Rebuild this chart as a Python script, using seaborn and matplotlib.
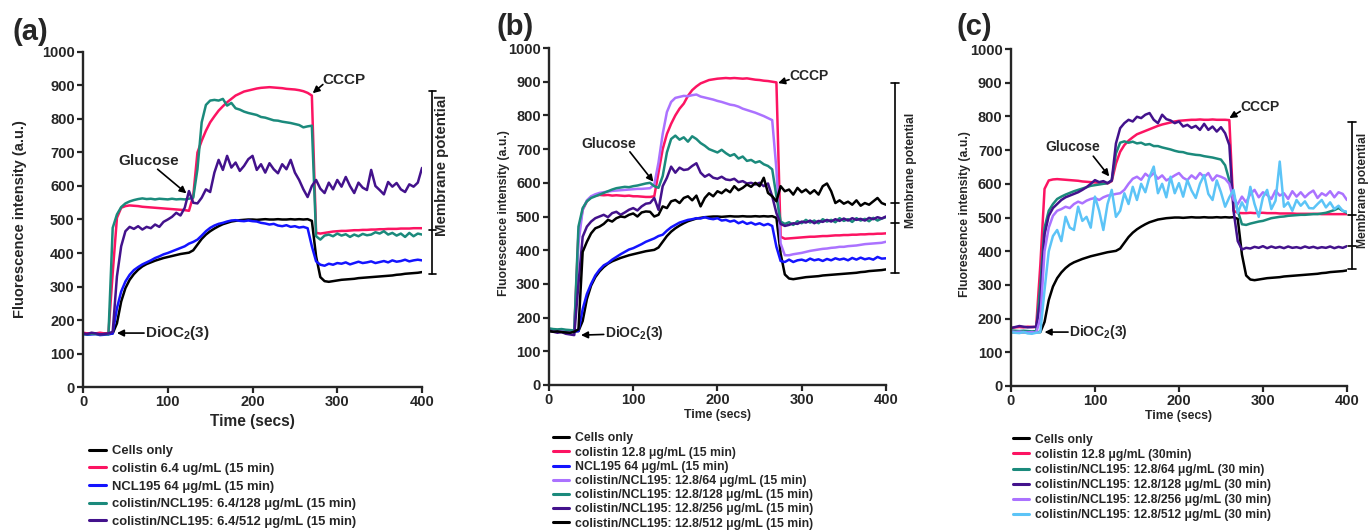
import pandas as pd
import seaborn as sns
import matplotlib.pyplot as plt
from matplotlib.lines import Line2D

# sampled every 5 s, 0-400 s
TIME = list(range(0, 401, 5))

CELLS_ONLY = [160, 160, 160, 160, 160, 160, 160, 160, 190, 255,
              295, 320, 337, 350, 360, 367, 372, 377, 381, 385,
              388, 391, 394, 397, 399, 401, 408, 425, 442, 455,
              465, 473, 480, 486, 490, 494, 496, 498, 499, 500,
              500, 499, 500, 501, 500, 500, 501, 500, 500, 501,
              500, 501, 500, 501, 496, 390, 328, 316, 314, 316,
              318, 320, 321, 322, 323, 325, 326, 327, 328, 329,
              330, 331, 332, 333, 335, 336, 338, 339, 340, 341,
              343]

# ---- panel (a)
COL64_A = [162, 160, 161, 160, 162, 160, 161, 340, 505, 535,
           540, 542, 541, 540, 538, 537, 536, 535, 534, 533,
           532, 531, 530, 529, 528, 526, 570, 700, 735, 765,
           790, 808, 825, 838, 850, 860, 870, 876, 882, 885,
           888, 891, 893, 894, 895, 894, 893, 892, 890, 889,
           888, 886, 883, 878, 870, 460, 458, 460, 462, 464,
           465, 466, 466, 467, 468, 468, 469, 469, 470, 470,
           471, 471, 472, 472, 472, 473, 473, 473, 474, 474,
           474]
NCL64_A = [158, 156, 157, 158, 155, 156, 157, 160, 235, 285,
           315, 335, 349, 358, 366, 372, 378, 385, 390, 396,
           400, 405, 410, 415, 420, 428, 433, 440, 452, 465,
           475, 482, 487, 490, 494, 497, 498, 496, 495, 497,
           495, 494, 490, 488, 485, 487, 482, 480, 483, 478,
           480, 476, 478, 474, 420, 375, 365, 362, 368, 365,
           370, 368, 372, 366, 370, 374, 370, 372, 375, 370,
           373, 376, 372, 378, 374, 376, 380, 375, 378, 380,
           378]
COMBO128_A = [158, 157, 159, 158, 157, 158, 157, 475, 515, 537,
              548, 554, 558, 561, 563, 561, 562, 560, 562, 561,
              560, 562, 560, 561, 560, 562, 565, 650, 790, 842,
              855, 857, 855, 860, 840, 848, 832, 828, 822, 818,
              815, 812, 806, 804, 800, 796, 795, 792, 790, 788,
              785, 782, 775, 778, 780, 450, 440, 452, 455, 450,
              458, 452, 456, 448, 455, 450, 457, 453, 455, 462,
              458, 465, 455, 460, 452, 458, 448, 460, 450, 458,
              455]
COMBO512_A = [160, 158, 162, 160, 157, 158, 160, 165, 330, 420,
              465, 478, 472, 480, 470, 478, 474, 485, 478, 493,
              500, 508, 520, 512, 535, 585, 550, 548, 565, 590,
              582, 640, 678, 648, 690, 655, 670, 645, 660, 680,
              690, 648, 665, 640, 668, 650, 638, 665, 650, 678,
              640, 618, 590, 567, 600, 618, 592, 579, 610, 590,
              618, 598, 627, 600, 579, 610, 595, 588, 648, 600,
              588, 575, 612, 598, 609, 590, 582, 605, 598, 610,
              654]

# ---- panel (b)
COL128_B = [165, 163, 162, 163, 161, 162, 160, 450, 520, 545,
            558, 562, 564, 563, 564, 562, 563, 562, 561, 562,
            560, 560, 559, 558, 558, 560, 630, 700, 745, 775,
            800, 820, 835, 858, 875, 886, 895, 900, 905, 907,
            909, 910, 911, 910, 911, 910, 909, 910, 908, 906,
            905, 903, 902, 900, 898, 440, 434, 435, 436, 437,
            438, 439, 440, 440, 441, 442, 442, 443, 444, 444,
            445, 445, 446, 446, 447, 447, 448, 448, 449, 449,
            450]
NCL64_B = [162, 160, 159, 160, 158, 157, 158, 160, 225, 270,
           300, 325, 342, 355, 362, 372, 380, 388, 395, 402,
           406, 412, 418, 425, 430, 435, 442, 446, 458, 468,
           475, 482, 486, 490, 492, 495, 494, 498, 494, 492,
           495, 488, 490, 485, 488, 480, 485, 478, 482, 476,
           480, 474, 478, 472, 410, 368, 365, 372, 365, 370,
           372, 368, 375, 370, 373, 368, 374, 370, 376, 372,
           375, 370, 377, 372, 378, 373, 376, 372, 380, 375,
           376]
COMBO64_B = [163, 162, 161, 160, 162, 160, 161, 420, 520, 548,
             560, 566, 570, 572, 574, 576, 577, 578, 579, 580,
             581, 582, 582, 583, 584, 595, 660, 745, 810, 840,
             852, 855, 858, 857, 860, 862, 856, 853, 850, 847,
             843, 840, 836, 832, 830, 826, 820, 816, 812, 808,
             803, 798, 792, 786, 640, 420, 385, 385, 388, 390,
             392, 395, 398, 400, 402, 404, 405, 407, 408, 410,
             410, 412, 413, 414, 416, 418, 419, 420, 421, 422,
             425]
COMBO128_B = [168, 166, 165, 166, 164, 163, 162, 470, 525, 545,
              555, 560, 565, 570, 575, 580, 584, 586, 588, 587,
              590, 592, 595, 598, 600, 590, 585, 620, 690, 730,
              740, 728, 735, 722, 738, 730, 718, 710, 700, 695,
              690, 698, 688, 680, 685, 672, 678, 665, 668, 660,
              664, 655, 650, 640, 560, 485, 478, 483, 475, 486,
              480, 490, 482, 488, 480, 492, 485, 490, 483, 495,
              487, 492, 484, 495, 488, 493, 486, 496, 488, 494,
              498]
COMBO256_B = [162, 158, 155, 157, 152, 150, 148, 300, 440, 470,
              485, 495, 500, 505, 498, 510, 514, 505, 512, 520,
              525, 518, 530, 538, 540, 555, 520, 590, 615, 648,
              630, 645, 638, 640, 650, 658, 630, 618, 625, 615,
              612, 618, 610, 608, 612, 602, 605, 598, 600, 595,
              600, 590, 598, 560, 510, 478, 472, 475, 480, 478,
              485, 482, 488, 480, 487, 484, 490, 485, 492, 487,
              494, 488, 495, 490, 493, 488, 496, 492, 498, 494,
              500]
COMBO512_B = [160, 158, 159, 157, 156, 155, 158, 165, 395, 425,
              450, 465, 470, 478, 490, 485, 495, 500, 498, 505,
              509, 500, 512, 515, 514, 500, 505, 530, 525, 545,
              549, 540, 555, 560, 548, 562, 530, 555, 569, 560,
              575, 569, 580, 572, 590, 578, 585, 595, 588, 600,
              590, 615, 570, 560, 545, 590, 575, 580, 565, 585,
              572, 580, 568, 578, 565, 590, 598, 575, 540, 548,
              538, 544, 535, 548, 532, 540, 535, 545, 555, 540,
              535]

# ---- panel (c)
COL128_C = [172, 174, 175, 174, 176, 175, 175, 360, 585, 610,
            613, 614, 613, 612, 611, 610, 609, 607, 606, 605,
            604, 603, 602, 601, 608, 660, 695, 715, 728, 738,
            747, 752, 757, 762, 767, 772, 776, 779, 782, 785,
            787, 788, 789, 790, 790, 791, 790, 790, 791, 790,
            790, 790, 789, 520, 514, 513, 513, 514, 513, 514,
            514, 513, 513, 513, 512, 512, 512, 512, 511, 511,
            511, 511, 511, 511, 510, 510, 510, 510, 510, 510,
            510]
COMBO64_C = [165, 164, 163, 164, 163, 162, 163, 300, 470, 520,
             540, 555, 562, 568, 573, 578, 582, 586, 590, 594,
             596, 598, 600, 602, 610, 690, 722, 726, 722, 725,
             720, 722, 716, 718, 712, 712, 708, 705, 702, 698,
             695, 694, 690, 688, 686, 685, 682, 680, 678, 675,
             672, 655, 610, 570, 520, 480, 478, 482, 485, 488,
             490, 494, 498, 500, 502, 503, 505, 506, 507, 508,
             508, 509, 510, 510, 512, 514, 518, 522, 528, 520,
             514]
COMBO128_C = [172, 175, 178, 176, 174, 175, 176, 250, 450, 505,
              528, 540, 552, 560, 565, 570, 575, 582, 590, 600,
              611, 605, 608, 602, 610, 720, 765, 780, 790, 785,
              799, 795, 805, 810, 790, 780, 805, 792, 788, 780,
              785, 770, 775, 766, 772, 760, 778, 760, 770, 755,
              768, 750, 715, 520, 430, 405, 410, 408, 413, 410,
              415, 409, 414, 410, 413, 409, 414, 410, 412, 409,
              414, 410, 413, 409, 412, 410, 414, 409, 413, 410,
              415]
COMBO256_C = [162, 160, 161, 160, 159, 160, 158, 200, 400, 470,
              505, 520, 525, 532, 528, 540, 547, 542, 550, 555,
              558, 552, 560, 565, 567, 570, 572, 582, 600, 615,
              621, 612, 630, 620, 632, 615, 625, 610, 617, 625,
              632, 618, 611, 625, 615, 632, 620, 632, 610, 625,
              621, 615, 600, 552, 540, 562, 545, 570, 582, 560,
              575, 567, 555, 580, 565, 572, 555, 578, 562, 575,
              560, 572, 580, 558, 572, 565, 578, 560, 575, 570,
              552]
COMBO512_C = [160, 158, 157, 160, 156, 155, 158, 160, 285, 400,
              445, 463, 430, 502, 470, 463, 532, 490, 502, 470,
              562, 520, 463, 540, 582, 502, 520, 572, 540, 591,
              552, 600, 575, 621, 651, 572, 600, 560, 621, 572,
              602, 562, 611, 580, 558, 600, 626, 570, 552, 610,
              575, 532, 560, 582, 513, 545, 520, 591, 540, 502,
              560, 582, 525, 550, 666, 532, 545, 520, 552, 535,
              548, 528, 527, 540, 552, 530, 545, 525, 535, 520,
              517]

LABELS_A = ["Cells only", "colistin 6.4 ug/mL (15 min)", "NCL195 64 μg/mL (15 min)",
            "colistin/NCL195: 6.4/128 μg/mL (15 min)", "colistin/NCL195: 6.4/512 μg/mL (15 min)"]
LABELS_B = ["Cells only", "colistin 12.8 μg/mL (15 min)", "NCL195 64 μg/mL (15 min)",
            "colistin/NCL195: 12.8/64 μg/mL (15 min)", "colistin/NCL195: 12.8/128 μg/mL (15 min)",
            "colistin/NCL195: 12.8/256 μg/mL (15 min)", "colistin/NCL195: 12.8/512 μg/mL (15 min)"]
LABELS_C = ["Cells only", "colistin 12.8 μg/mL (30min)", "colistin/NCL195: 12.8/64 μg/mL (30 min)",
            "colistin/NCL195: 12.8/128 μg/mL (30 min)", "colistin/NCL195: 12.8/256 μg/mL (30 min)",
            "colistin/NCL195: 12.8/512 μg/mL (30 min)"]

BLACK, PINK, BLUE, TEAL = "#000000", "#fc1462", "#1414ff", "#1b8a7c"
INDIGO, LILAC, SKY = "#43128c", "#ab72ff", "#5cc4f7"

sns.set_style("ticks")
plt.rcParams['font.family'] = ['Liberation Sans', 'DejaVu Sans']
plt.rcParams['font.weight'] = 'bold'
plt.rcParams['axes.labelweight'] = 'bold'
plt.rcParams['mathtext.fontset'] = 'custom'
plt.rcParams['mathtext.rm'] = 'Liberation Sans:bold'
plt.rcParams['mathtext.bf'] = 'Liberation Sans:bold'
plt.rcParams['mathtext.it'] = 'Liberation Sans:bold'


def draw_panel(ax, labels, series, colors):
    df = pd.DataFrame({
        "Time (secs)": TIME * len(series),
        "Fluorescence": [v for s in series for v in s],
        "Treatment": [lab for lab in labels for _ in TIME],
    })
    sns.lineplot(data=df, x="Time (secs)", y="Fluorescence", hue="Treatment",
                 hue_order=labels, palette=dict(zip(labels, colors)),
                 linewidth=1.8, legend=False, errorbar=None, ax=ax)
    ax.set_xlim(0, 400)
    ax.set_ylim(0, 1000)
    ax.set_xticks(range(0, 401, 100))
    ax.set_yticks(range(0, 1001, 100))
    sns.despine(ax=ax)
    for sp in ("left", "bottom"):
        ax.spines[sp].set_linewidth(1.7)
    ax.tick_params(direction="out", length=4, width=1.6, labelsize=10.5, pad=2)
    for lab in ax.get_xticklabels() + ax.get_yticklabels():
        lab.set_fontweight("bold")


def bracket(ax, x, ys, half):
    ax.plot([x, x], [min(ys), max(ys)], color="black", lw=1.2, clip_on=False)
    for y in ys:
        ax.plot([x - half, x + half], [y, y], color="black", lw=1.2, clip_on=False)


def arrow(ax, tail, head):
    ax.annotate("", xy=head, xytext=tail,
                arrowprops=dict(arrowstyle="-|>", color="black", lw=1.2,
                                mutation_scale=10, shrinkA=0, shrinkB=0))


fig = plt.figure(figsize=(13.68, 5.30), dpi=100)
ax_a = fig.add_axes([0.0607, 0.2698, 0.2478, 0.6321])
ax_b = fig.add_axes([0.4013, 0.2736, 0.2463, 0.6358])
ax_c = fig.add_axes([0.7390, 0.2717, 0.2456, 0.6358])

colors_a = [BLACK, PINK, BLUE, TEAL, INDIGO]
colors_b = [BLACK, PINK, BLUE, LILAC, TEAL, INDIGO, BLACK]
colors_c = [BLACK, PINK, TEAL, INDIGO, LILAC, SKY]

draw_panel(ax_a, LABELS_A, [CELLS_ONLY, COL64_A, NCL64_A, COMBO128_A, COMBO512_A], colors_a)
draw_panel(ax_b, LABELS_B, [CELLS_ONLY, COL128_B, NCL64_B, COMBO64_B, COMBO128_B,
                            COMBO256_B, COMBO512_B], colors_b)
draw_panel(ax_c, LABELS_C, [CELLS_ONLY, COL128_C, COMBO64_C, COMBO128_C, COMBO256_C,
                            COMBO512_C], colors_c)

# axis labels
ax_a.set_xlabel("Time (secs)", fontsize=11.2, fontweight="bold")
ax_a.set_ylabel("Fluorescence intensity (a.u.)", fontsize=10.5, fontweight="bold")
ax_a.xaxis.set_label_coords(0.5, -0.082)
ax_a.yaxis.set_label_coords(-0.165, 0.5)
for ax, ylx in ((ax_b, -0.116), (ax_c, -0.119)):
    ax.set_xlabel("Time (secs)", fontsize=8.8, fontweight="bold")
    ax.set_ylabel("Fluorescence intensity (a.u.)", fontsize=8.8, fontweight="bold")
    ax.xaxis.set_label_coords(0.5, -0.07)
    ax.yaxis.set_label_coords(ylx, 0.51)

# annotations (a)
ax_a.text(283, 916, "CCCP", fontsize=11, fontweight="bold", ha="left", va="center")
arrow(ax_a, (283, 903), (271, 877))
ax_a.text(77, 675, "Glucose", fontsize=11, fontweight="bold", ha="center", va="center")
arrow(ax_a, (88, 650), (122, 578))
ax_a.text(73, 161, r"DiOC$_2$(3)", fontsize=11, fontweight="bold", ha="left", va="center")
arrow(ax_a, (72, 161), (40, 161))
bracket(ax_a, 412, [884, 469, 337], 4)
ax_a.text(423, 663, "Membrane potential", rotation=90, fontsize=10.8, fontweight="bold",
          ha="center", va="center", clip_on=False)

# annotations (b)
ax_b.text(285, 917, "CCCP", fontsize=10, fontweight="bold", ha="left", va="center")
arrow(ax_b, (285, 906), (272, 896))
ax_b.text(71, 715, "Glucose", fontsize=10, fontweight="bold", ha="center", va="center")
arrow(ax_b, (96, 692), (124, 603))
ax_b.text(66, 153, r"DiOC$_2$(3)", fontsize=10, fontweight="bold", ha="left", va="center")
arrow(ax_b, (65, 150), (38, 148))
bracket(ax_b, 411, [896, 540, 481, 333], 5)
ax_b.text(430, 638, "Membrane potential", rotation=90, fontsize=8.7, fontweight="bold",
          ha="center", va="center", clip_on=False)

# annotations (c)
ax_c.text(273, 828, "CCCP", fontsize=10, fontweight="bold", ha="left", va="center")
arrow(ax_c, (273, 815), (260, 795))
ax_c.text(74, 709, "Glucose", fontsize=10, fontweight="bold", ha="center", va="center")
arrow(ax_c, (98, 682), (117, 622))
ax_c.text(69, 160, r"DiOC$_2$(3)", fontsize=10, fontweight="bold", ha="left", va="center")
arrow(ax_c, (68, 160), (40, 160))
bracket(ax_c, 406, [783, 507, 415, 347], 5)
ax_c.text(419, 582, "Membrane potential", rotation=90, fontsize=8.7, fontweight="bold",
          ha="center", va="center", clip_on=False)

# panel letters
fig.text(13 / 1368, 1 - 32 / 530, "(a)", fontsize=21, fontweight="bold", va="center")
fig.text(497 / 1368, 1 - 27 / 530, "(b)", fontsize=21, fontweight="bold", va="center")
fig.text(957 / 1368, 1 - 27 / 530, "(c)", fontsize=21, fontweight="bold", va="center")

# legends below each panel
for ax, labels, colors, x0, y0, fs, sp in (
        (ax_a, LABELS_A, colors_a, 89 / 1368, 0.160, 9.4, 0.42),
        (ax_b, LABELS_B, colors_b, 553 / 1368, 0.184, 8.8, 0.18),
        (ax_c, LABELS_C, colors_c, 1013 / 1368, 0.182, 8.7, 0.26)):
    handles = [Line2D([0], [0], color=c, lw=2.2) for c in colors]
    ax.legend(handles, labels, loc="upper left", bbox_to_anchor=(x0, y0),
              bbox_transform=fig.transFigure, frameon=False, borderpad=0,
              borderaxespad=0, handlelength=1.3, handletextpad=0.5,
              labelspacing=sp, prop=dict(weight="bold", size=fs))

fig.savefig("out.png", dpi=100)
